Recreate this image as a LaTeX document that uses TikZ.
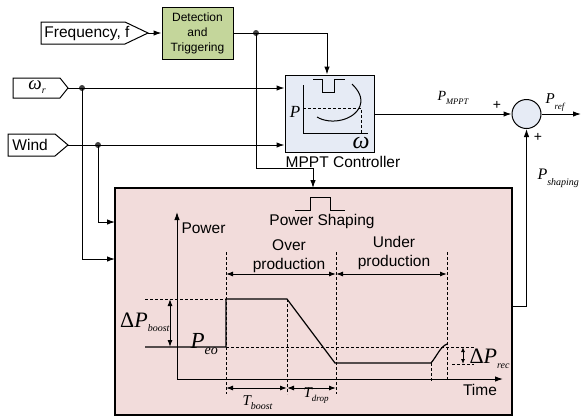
\documentclass[tikz,border=0pt]{standalone}
\usepackage{fontspec}
\setmainfont{Liberation Sans}
\newfontfamily\tms{Liberation Serif}
\usetikzlibrary{arrows.meta}
\definecolor{pinkbg}{RGB}{242,220,219}
\definecolor{greenbg}{RGB}{196,214,155}
\definecolor{bluebg}{RGB}{230,235,245}
\newcommand{\vsym}[5]{{\tms\itshape\fontsize{#1}{#1}\selectfont #2\raisebox{-#4pt}{\fontsize{#3}{#3}\selectfont #5}}}
\begin{document}
\begin{tikzpicture}[x=1pt,y=-1pt, line width=1pt,
  arr/.style={-{Latex[length=8pt,width=5.5pt]}},
  darr/.style={{Latex[length=7pt,width=5pt]}-{Latex[length=7pt,width=5pt]}},
  dsh/.style={dash pattern=on 3pt off 2pt, line width=0.9pt},
  lbl/.style={font=\fontsize{15.5}{18}\selectfont, inner sep=0pt},
  dot/.style={circle, fill=black!75, inner sep=0pt, minimum size=6pt},
  tagbox/.style={draw, line width=1pt, fill=white},
  trace/.style={line width=1.2pt},
]
\useasboundingbox (0,0) rectangle (582,416);

% ---------- input tags ----------
\draw[tagbox] (41,22) -- (125,22) -- (148,33) -- (125,44) -- (41,44) -- cycle;
\node[lbl, anchor=west] (freq) at (44,33) {Frequency, f};
\coordinate (freqtip) at (148,33);

\draw[tagbox] (13,78) -- (60,78) -- (68,88) -- (60,98) -- (13,98) -- cycle;
\node[inner sep=0pt] (wr) at (37,87) {\vsym{19}{ω}{10}{4}{r}};
\coordinate (wrtip) at (68,88);

\draw[tagbox] (8,134) -- (55,134) -- (68,145) -- (55,156) -- (8,156) -- cycle;
\node[lbl, anchor=west] (wind) at (12,145) {Wind};
\coordinate (windtip) at (68,145);

% ---------- blocks ----------
\node[draw, fill=greenbg, minimum width=71pt, minimum height=52pt, inner sep=0pt,
      align=center, font=\fontsize{12}{15}\selectfont] (det) at (197.5,33) {Detection\\and\\Triggering};

\node[draw, fill=bluebg, minimum width=89pt, minimum height=77pt, inner sep=0pt] (mppt) at (329.5,113.5) {};
\node[lbl] (mpptlbl) at (343,162) {MPPT Controller};

\node[draw, circle, fill=bluebg, minimum size=29pt, inner sep=0pt] (sum) at (526.5,114) {};

\node[draw, fill=pinkbg, minimum width=397pt, minimum height=227pt, inner sep=0pt, line width=1.1pt] (shape) at (313.5,301.5) {};

% ---------- MPPT inner sketch ----------
\draw (303,85) -- (303,133) -- (368,133);
\draw (313,79) -- (322,79) -- (322,92) -- (334,92) -- (334,79) -- (345,79);
\draw (317,117) .. controls (330,125) and (354,121) .. (360,106) .. controls (363,97) and (358,90) .. (352,84);
\draw[dsh] (303,108) -- (361,108) -- (361,133);
\node[inner sep=0pt] (mP) at (295,112) {{\tms\itshape\fontsize{17}{17}\selectfont P}};
\node[inner sep=0pt] (mw) at (361,143) {{\tms\itshape\fontsize{24}{24}\selectfont ω}};

% ---------- connectors ----------
\node[dot] (j1) at (256,33) {};
\node[dot] (j2) at (82,88) {};
\node[dot] (j3) at (98,145) {};

\draw[arr] (freqtip) -- (det.west |- freqtip);
\draw[arr] (det.east) -| ([xshift=-2.5pt]mppt.north);
\coordinate (bend1) at (313,168);
\coordinate (psin) at (313,188);
\draw (j1.center) |- (bend1);
\draw[arr] (bend1) -- (psin);

\draw[arr] (wrtip) -- (mppt.west |- wrtip);
\draw[arr] (windtip) -- (mppt.west |- windtip);

\coordinate (in1) at (115,222);
\coordinate (in2) at (115,259);
\draw[arr] (j3.center) |- (in1);
\draw[arr] (j2.center) |- (in2);

\coordinate (mout) at (374,114);
\draw[arr] (mout) -- (sum.west);
\coordinate (pref) at (581,114);
\draw[arr] (sum.east) -- (pref);
\coordinate (pso) at (512,306);
\draw[arr] (pso) -| (sum.south);

\node[anchor=base west, inner sep=0pt] (lmppt) at (437,100) {\vsym{14}{P}{8.5}{4}{MPPT}};
\node[lbl, font=\fontsize{14}{14}\selectfont] (plus1) at (497,105) {+};
\node[anchor=base west, inner sep=0pt] (lref) at (545,103) {\vsym{15}{P}{9}{6}{ref}};
\node[lbl, font=\fontsize{14}{14}\selectfont] (plus2) at (538,137) {+};
\node[anchor=base west, inner sep=0pt] (lshp) at (537,179) {\vsym{16}{P}{10}{6}{shaping}};

% ---------- power shaping plot ----------
\draw (295,210) -- (310,210) -- (310,197) -- (330,197) -- (330,210) -- (345,210);
\node[lbl] (pstitle) at (322,221) {Power Shaping};

\coordinate (org) at (177,379);
\draw[arr] (org) -- (177,212);
\draw[arr] (org) -- (503,379);
\node[lbl, anchor=west] (lpow) at (181,228) {Power};
\node[lbl] (ltime) at (480,390) {Time};

\node[lbl, align=center, font=\fontsize{15.5}{19}\selectfont] (over) at (289,256.5) {Over\\production};
\node[lbl, align=center, font=\fontsize{15.5}{19}\selectfont] (under) at (394,252.5) {Under\\production};

% dashed guides
\draw[dsh] (145,299) -- (226,299);
\draw[dsh] (226,347) -- (474,347);
\draw[dsh] (452,364) -- (474,364);
\draw[dsh] (226,252) -- (226,394);
\draw[dsh] (287,299) -- (287,394);
\draw[dsh] (336,252) -- (336,394);
\draw[dsh] (447,252) -- (447,379);
\draw[dsh] (431,363) -- (431,381);

% power trace
\draw[trace] (145,347) -- (226,347) -- (226,299) -- (287,299) -- (335,363) -- (431,363)
  .. controls (437,356) and (440,347) .. (447,344);

% dimension arrows
\draw[darr] (226,274) -- (336,274);
\draw[darr] (336,274) -- (447,274);
\draw[darr] (226,388) -- (287,388);
\draw[darr] (287,388) -- (336,388);
\draw[darr] (170,299) -- (170,347);
\draw[{Latex[length=5pt,width=4pt]}-{Latex[length=5pt,width=4pt]}] (463,347) -- (463,364);

\node[anchor=base east, inner sep=0pt] (ldpb) at (170,327) {\vsym{22}{{\upshape Δ}P}{10}{4}{boost}};
\node[anchor=base west, inner sep=0pt] (lpeo) at (190,348) {\vsym{23}{P}{14}{6}{eo}};
\node[anchor=base west, inner sep=0pt] (ltb) at (242,405) {\vsym{15}{T}{10}{4}{boost}};
\node[anchor=base west, inner sep=0pt] (ltd) at (303,397) {\vsym{15}{T}{9}{4}{drop}};
\node[anchor=base west, inner sep=0pt] (ldpr) at (469,363) {\vsym{22}{{\upshape Δ}P}{10}{5}{rec}};
\end{tikzpicture}
\end{document}
